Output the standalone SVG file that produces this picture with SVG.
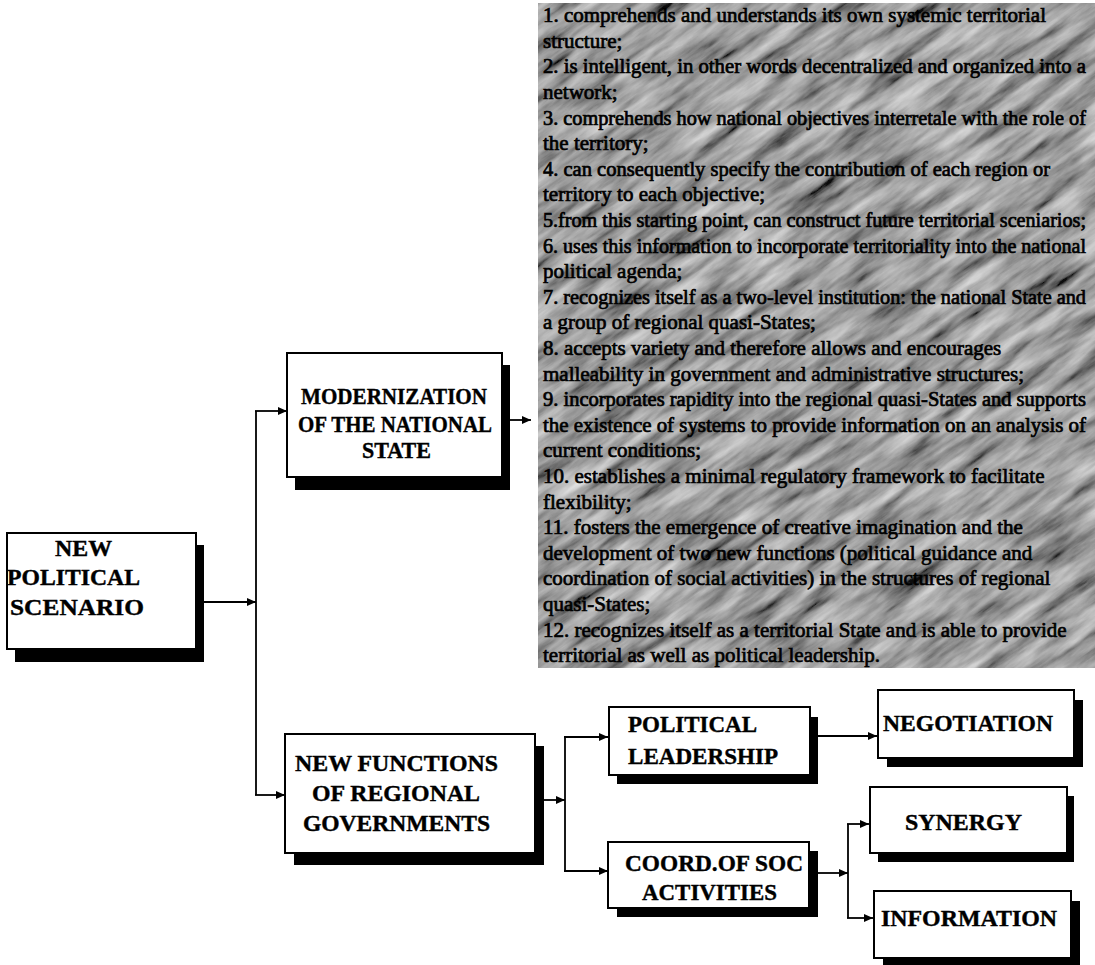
<svg xmlns="http://www.w3.org/2000/svg" width="1095" height="965" viewBox="0 0 1095 965">
<style>
.box{fill:#fff;stroke:#000;stroke-width:2}
.sh{fill:#000}
.lbl{font-family:"Liberation Serif","Times New Roman",serif;font-weight:bold;font-size:24px;fill:#000;stroke:#000;stroke-width:0.4}
.ln{font-family:"Liberation Serif","Times New Roman",serif;font-size:21px;fill:#000;stroke:#000;stroke-width:0.7}
.lg{font-size:20px}
.c{fill:none;stroke:#000;stroke-width:1.8}
</style>
<defs>
<marker id="ah" markerUnits="userSpaceOnUse" markerWidth="9" markerHeight="8" refX="9" refY="4" orient="auto">
<path d="M0,0 L9,4 L0,8 z" fill="#000"/>
</marker>
<filter id="tex" x="0" y="0" width="100%" height="100%">
<feTurbulence type="fractalNoise" baseFrequency="0.014 0.08" numOctaves="5" seed="11"/>
<feColorMatrix type="saturate" values="0"/>
<feComponentTransfer>
<feFuncR type="linear" slope="1.4" intercept="-0.33"/>
<feFuncG type="linear" slope="1.4" intercept="-0.33"/>
<feFuncB type="linear" slope="1.4" intercept="-0.33"/>
<feFuncA type="linear" slope="0" intercept="1"/>
</feComponentTransfer>
<feComposite in2="SourceGraphic" operator="in"/>
</filter>
<clipPath id="clipT"><rect x="538" y="3" width="557" height="665"/></clipPath>
</defs>

<g id="text-panel">
<rect x="538" y="3" width="557" height="665" fill="#7e7e7e"/>
<g clip-path="url(#clipT)">
<rect x="300" y="-300" width="1050" height="1300" fill="#000" filter="url(#tex)" transform="rotate(-35 816 335)" opacity="0.9"/>
</g>
<text class="ln" x="543" y="22" textLength="503" lengthAdjust="spacingAndGlyphs">1. comprehends and understands its own systemic territorial</text>
<text class="ln" x="543" y="48">structure;</text>
<text class="ln lg" x="543" y="73" textLength="543" lengthAdjust="spacingAndGlyphs">2. is intelligent, in other words decentralized and organized into a</text>
<text class="ln" x="543" y="99">network;</text>
<text class="ln lg" x="543" y="125" textLength="543" lengthAdjust="spacingAndGlyphs">3. comprehends how national objectives interretale with the role of</text>
<text class="ln" x="543" y="150">the territory;</text>
<text class="ln" x="543" y="176" textLength="507" lengthAdjust="spacingAndGlyphs">4. can consequently specify the contribution of each region or</text>
<text class="ln" x="543" y="201">territory to each objective;</text>
<text class="ln lg" x="543" y="227" textLength="543" lengthAdjust="spacingAndGlyphs">5.from this starting point, can construct future territorial sceniarios;</text>
<text class="ln lg" x="543" y="253" textLength="543" lengthAdjust="spacingAndGlyphs">6. uses this information to incorporate territoriality into the national</text>
<text class="ln" x="543" y="278">political  agenda;</text>
<text class="ln lg" x="543" y="304" textLength="543" lengthAdjust="spacingAndGlyphs">7. recognizes itself as a two-level institution: the national State and</text>
<text class="ln" x="543" y="329">a group of regional quasi-States;</text>
<text class="ln" x="543" y="355">8. accepts variety  and therefore allows and encourages</text>
<text class="ln" x="543" y="381">malleability in government and administrative structures;</text>
<text class="ln lg" x="543" y="406" textLength="543" lengthAdjust="spacingAndGlyphs">9. incorporates rapidity into the regional quasi-States and supports</text>
<text class="ln lg" x="543" y="432" textLength="543" lengthAdjust="spacingAndGlyphs">the  existence of systems to provide information on an analysis of</text>
<text class="ln" x="543" y="457">current conditions;</text>
<text class="ln" x="543" y="483">10.  establishes a minimal regulatory framework to facilitate</text>
<text class="ln" x="543" y="509">flexibility;</text>
<text class="ln" x="543" y="534">11. fosters the emergence of creative imagination and the</text>
<text class="ln" x="543" y="560">development of two new functions (political guidance and</text>
<text class="ln" x="543" y="585">coordination of social activities) in the structures of regional</text>
<text class="ln" x="543" y="611">quasi-States;</text>
<text class="ln" x="543" y="637">12. recognizes itself as a territorial State and is able to provide</text>
<text class="ln" x="543" y="662">territorial as well as political leadership.</text>
</g>

<g id="connectors">
<line class="c" x1="203" y1="602" x2="256" y2="602" marker-end="url(#ah)"/>
<line class="c" x1="256" y1="411" x2="256" y2="795"/>
<line class="c" x1="255" y1="411" x2="287" y2="411" marker-end="url(#ah)"/>
<line class="c" x1="255" y1="795" x2="285" y2="795" marker-end="url(#ah)"/>
<line class="c" x1="510" y1="420" x2="531" y2="420" marker-end="url(#ah)"/>
<line class="c" x1="544" y1="800" x2="565" y2="800" marker-end="url(#ah)"/>
<line class="c" x1="565" y1="737" x2="565" y2="871"/>
<line class="c" x1="564" y1="737" x2="608" y2="737" marker-end="url(#ah)"/>
<line class="c" x1="564" y1="871" x2="608" y2="871" marker-end="url(#ah)"/>
<line class="c" x1="818" y1="736" x2="877" y2="736" marker-end="url(#ah)"/>
<line class="c" x1="818" y1="873" x2="848" y2="873" marker-end="url(#ah)"/>
<line class="c" x1="848" y1="824" x2="848" y2="918"/>
<line class="c" x1="847" y1="824" x2="869" y2="824" marker-end="url(#ah)"/>
<line class="c" x1="847" y1="918" x2="873" y2="918" marker-end="url(#ah)"/>
</g>

<g id="node-new-political-scenario">
<rect class="sh" x="15" y="545" width="189" height="117"/>
<rect class="box" x="7" y="533" width="189" height="116"/>
<text class="lbl" x="55" y="556" textLength="57" lengthAdjust="spacingAndGlyphs">NEW</text>
<text class="lbl" x="7" y="585" textLength="133" lengthAdjust="spacingAndGlyphs">POLITICAL</text>
<text class="lbl" x="10" y="615" textLength="134" lengthAdjust="spacingAndGlyphs">SCENARIO</text>
</g>

<g id="node-modernization">
<rect class="sh" x="295" y="365" width="215" height="125"/>
<rect class="box" x="287" y="353" width="215" height="124"/>
<text class="lbl" x="301" y="404" textLength="186" lengthAdjust="spacingAndGlyphs">MODERNIZATION</text>
<text class="lbl" x="298" y="432" textLength="194" lengthAdjust="spacingAndGlyphs">OF THE NATIONAL</text>
<text class="lbl" x="362" y="458" textLength="69" lengthAdjust="spacingAndGlyphs">STATE</text>
</g>

<g id="node-new-functions">
<rect class="sh" x="294" y="746" width="250" height="119"/>
<rect class="box" x="285" y="734" width="250" height="119"/>
<text class="lbl" x="295" y="771" textLength="203" lengthAdjust="spacingAndGlyphs">NEW FUNCTIONS</text>
<text class="lbl" x="312" y="801" textLength="168" lengthAdjust="spacingAndGlyphs">OF REGIONAL</text>
<text class="lbl" x="303" y="831" textLength="187" lengthAdjust="spacingAndGlyphs">GOVERNMENTS</text>
</g>

<g id="node-political-leadership">
<rect class="sh" x="617" y="717" width="201" height="67"/>
<rect class="box" x="609" y="707" width="201" height="68"/>
<text class="lbl" x="628" y="732" textLength="129" lengthAdjust="spacingAndGlyphs">POLITICAL</text>
<text class="lbl" x="628" y="764" textLength="150" lengthAdjust="spacingAndGlyphs">LEADERSHIP</text>
</g>

<g id="node-coord">
<rect class="sh" x="617" y="851" width="201" height="66"/>
<rect class="box" x="608" y="842" width="201" height="66"/>
<text class="lbl" x="625" y="871" textLength="178" lengthAdjust="spacingAndGlyphs">COORD.OF SOC</text>
<text class="lbl" x="642" y="900" textLength="135" lengthAdjust="spacingAndGlyphs">ACTIVITIES</text>
</g>

<g id="node-negotiation">
<rect class="sh" x="887" y="700" width="196" height="67"/>
<rect class="box" x="878" y="690" width="196" height="68"/>
<text class="lbl" x="883" y="731" textLength="170" lengthAdjust="spacingAndGlyphs">NEGOTIATION</text>
</g>

<g id="node-synergy">
<rect class="sh" x="878" y="796" width="196" height="66"/>
<rect class="box" x="870" y="787" width="197" height="66"/>
<text class="lbl" x="905" y="830" textLength="117" lengthAdjust="spacingAndGlyphs">SYNERGY</text>
</g>

<g id="node-information">
<rect class="sh" x="883" y="901" width="197" height="66"/>
<rect class="box" x="874" y="891" width="197" height="67"/>
<text class="lbl" x="881" y="926" textLength="176" lengthAdjust="spacingAndGlyphs">INFORMATION</text>
</g>
</svg>
